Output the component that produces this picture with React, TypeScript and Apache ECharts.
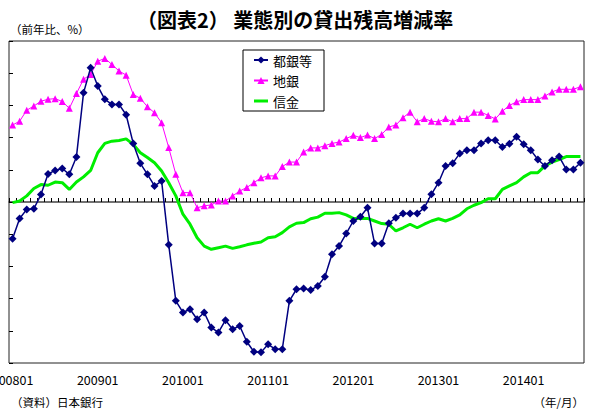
import React, { useEffect, useRef } from "react";
import * as echarts from "echarts";

const months: string[] = [
  "200801","200802","200803","200804","200805","200806","200807","200808","200809","200810","200811","200812",
  "200901","200902","200903","200904","200905","200906","200907","200908","200909","200910","200911","200912",
  "201001","201002","201003","201004","201005","201006","201007","201008","201009","201010","201011","201012",
  "201101","201102","201103","201104","201105","201106","201107","201108","201109","201110","201111","201112",
  "201201","201202","201203","201204","201205","201206","201207","201208","201209","201210","201211","201212",
  "201301","201302","201303","201304","201305","201306","201307","201308","201309","201310","201311","201312",
  "201401","201402","201403","201404","201405","201406","201407","201408","201409",
];

const togin: number[] = [
  -1.14, -0.51, -0.23, -0.21, 0.23, 0.87, 0.98, 1.04, 0.86, 1.40, 3.39, 4.17,
  3.60, 3.19, 3.03, 3.03, 2.71, 1.82, 1.20, 0.86, 0.50, 0.65, -1.33, -3.07,
  -3.43, -3.33, -3.64, -3.43, -3.90, -4.05, -3.67, -3.95, -3.85, -4.34, -4.65, -4.67,
  -4.42, -4.57, -4.57, -3.07, -2.71, -2.69, -2.73, -2.61, -2.32, -1.62, -1.37, -0.98,
  -0.59, -0.46, -0.18, -1.29, -1.29, -0.66, -0.49, -0.36, -0.36, -0.36, -0.18, 0.24,
  0.60, 1.12, 1.20, 1.51, 1.61, 1.61, 1.82, 1.92, 1.92, 1.71, 1.81, 2.03,
  1.79, 1.61, 1.32, 1.12, 1.30, 1.41, 1.01, 1.01, 1.22,
];

const chigin: number[] = [
  2.39, 2.51, 2.85, 2.98, 3.13, 3.19, 3.21, 3.12, 2.91, 3.37, 3.81, 3.96,
  4.37, 4.46, 4.27, 4.07, 3.94, 3.34, 3.22, 2.96, 2.77, 2.46, 1.69, 0.86,
  0.29, 0.29, -0.18, -0.12, -0.09, 0.03, 0.03, 0.19, 0.34, 0.45, 0.60, 0.75,
  0.81, 0.81, 1.10, 1.24, 1.24, 1.55, 1.68, 1.68, 1.75, 1.82, 1.86, 1.97,
  2.07, 2.00, 2.08, 1.97, 2.10, 2.33, 2.39, 2.62, 2.79, 2.49, 2.59, 2.51,
  2.49, 2.59, 2.49, 2.59, 2.59, 2.79, 2.79, 2.69, 2.58, 2.82, 3.00, 3.11,
  3.18, 3.18, 3.18, 3.29, 3.42, 3.50, 3.50, 3.50, 3.58,
];

const shinkin: number[] = [
  -0.02, 0.03, 0.19, 0.42, 0.54, 0.52, 0.62, 0.60, 0.39, 0.62, 0.78, 0.98,
  1.53, 1.82, 1.89, 1.91, 1.96, 1.79, 1.53, 1.38, 1.22, 0.96, 0.60, 0.19,
  -0.38, -0.69, -1.11, -1.37, -1.47, -1.42, -1.37, -1.44, -1.39, -1.33, -1.28, -1.24,
  -1.11, -1.08, -0.95, -0.77, -0.66, -0.64, -0.52, -0.47, -0.35, -0.35, -0.33, -0.40,
  -0.51, -0.51, -0.51, -0.59, -0.67, -0.69, -0.90, -0.80, -0.69, -0.80, -0.69, -0.59,
  -0.52, -0.59, -0.51, -0.40, -0.21, -0.10, -0.02, 0.10, 0.10, 0.39, 0.50, 0.60,
  0.78, 0.91, 0.91, 1.12, 1.24, 1.32, 1.41, 1.41, 1.41,
];

const seriesNames = ["都銀等", "地銀", "信金"];
const titleText = "（図表2） 業態別の貸出残高増減率";
const unitText = "（前年比、%）";
const sourceText = "（資料）日本銀行";
const xUnitText = "（年/月）";

const FONT = "'Noto Sans CJK JP', 'Noto Sans', sans-serif";

export default function App() {
  const ref = useRef<HTMLDivElement>(null);
  useEffect(() => {
    if (!ref.current) return;
    const chart = echarts.init(ref.current, undefined, { renderer: "svg" });
    chart.setOption({
      animation: false,
      backgroundColor: "#fff",
      textStyle: { fontFamily: FONT },
      grid: {
        left: 9,
        right: 6,
        top: 41,
        bottom: 52,
        containLabel: false,
        outerBoundsMode: "none",
        show: true,
        borderColor: "#222",
        borderWidth: 1,
        backgroundColor: "transparent",
      },
      legend: {
        orient: "vertical",
        left: 243,
        top: 50,
        padding: [3, 12, 3, 10],
        itemGap: 6.5,
        itemWidth: 14,
        itemHeight: 9,
        borderColor: "#000",
        borderWidth: 1,
        backgroundColor: "#fff",
        textStyle: { fontSize: 13, lineHeight: 14, color: "#000", fontFamily: FONT },
        data: [
          seriesNames[0],
          seriesNames[1],
          { name: seriesNames[2], icon: "path://M0 0H14V3H0Z" },
        ],
      },
      xAxis: [
        {
          type: "category",
          data: months,
          position: "bottom",
          boundaryGap: true,
          axisLine: { show: false, onZero: false },
          axisTick: { show: false },
          axisLabel: {
            interval: 11,
            margin: 10,
            fontSize: 12.5,
            color: "#000",
            fontFamily: FONT,
          },
          splitLine: { show: false },
        },
        {
          type: "category",
          data: months,
          position: "bottom",
          offset: -161,
          boundaryGap: true,
          axisLine: { show: true, onZero: false, lineStyle: { color: "#444", width: 1.5 } },
          axisTick: { show: true, inside: true, interval: 0, length: 4, lineStyle: { color: "#000", width: 1 } },
          axisLabel: { show: false },
          splitLine: { show: false },
        },
      ],
      yAxis: {
        type: "value",
        min: -5,
        max: 5,
        interval: 1,
        axisLine: { show: false },
        axisTick: { show: true, inside: true, length: 4, lineStyle: { color: "#000" } },
        axisLabel: { show: false },
        splitLine: { show: false },
      },
      series: [
        {
          name: seriesNames[0],
          type: "line",
          data: togin,
          xAxisIndex: 0,
          color: "#000080",
          symbol: "diamond",
          symbolSize: 8,
          showAllSymbol: true,
          lineStyle: { width: 1.5, color: "#000080" },
          itemStyle: { color: "#000080" },
          z: 4,
        },
        {
          name: seriesNames[1],
          type: "line",
          data: chigin,
          xAxisIndex: 0,
          color: "#ff00ff",
          symbol: "triangle",
          symbolSize: 7,
          showAllSymbol: true,
          lineStyle: { width: 1, color: "#ff00ff" },
          itemStyle: { color: "#ff00ff" },
          z: 3,
        },
        {
          name: seriesNames[2],
          type: "line",
          data: shinkin,
          xAxisIndex: 0,
          color: "#00ee00",
          symbol: "none",
          lineStyle: { width: 3, color: "#00ee00" },
          itemStyle: { color: "#00ee00" },
          z: 2,
        },
      ],
      graphic: [
        {
          type: "text",
          left: 137,
          top: 9,
          style: { text: titleText, font: `bold 20px ${FONT}`, fill: "#000" },
        },
        {
          type: "text",
          left: 10,
          top: 23,
          style: { text: unitText, font: `11.5px ${FONT}`, fill: "#000" },
        },
        {
          type: "text",
          left: 11,
          top: 396,
          style: { text: sourceText, font: `11.5px ${FONT}`, fill: "#000" },
        },
        {
          type: "text",
          right: 6,
          top: 396,
          style: { text: xUnitText, font: `11.5px ${FONT}`, fill: "#000" },
        },
      ],
    });
    return () => chart.dispose();
  }, []);
  return <div ref={ref} style={{ width: 590, height: 415, position: "absolute", left: 0, top: 0 }} />;
}
